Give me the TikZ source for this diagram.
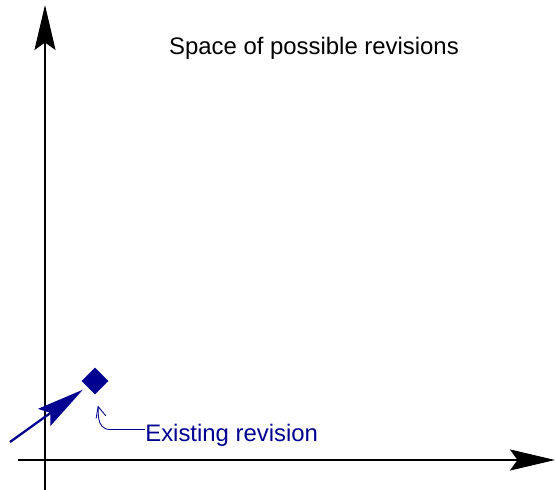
\documentclass[tikz,border=0pt]{standalone}
\usepackage{fontspec}
\setmainfont{Liberation Sans}
\usepackage{tikz}
\usetikzlibrary{arrows.meta, positioning, shapes.geometric}
\definecolor{revblue}{RGB}{0,0,145}

\begin{document}
\begin{tikzpicture}[x=0.02cm, y=-0.02cm,
    axis/.style={line width=1.2pt, -{Stealth[length=0.9cm, width=0.42cm, inset=0.15cm]}},
    revbox/.style={diamond, fill=revblue, inner sep=0pt, minimum size=0.54cm},
    txt/.style={font=\fontsize{13.6}{16}\selectfont, inner sep=0pt}]
    \useasboundingbox (0,0) rectangle (556,490);

    % Achsen
    \coordinate (ybot) at (45,490);
    \coordinate (ytop) at (45,5);
    \coordinate (xleft) at (18,460);
    \coordinate (xright) at (555,460);
    \draw[axis] (ybot) -- (ytop);
    \draw[axis] (xleft) -- (xright);

    % Titel
    \node[txt, anchor=base] (title) at (314,54) {Space of possible revisions};

    % bestehende Revision
    \node[revbox] (rev) at (95,381) {};
    \coordinate (from) at (10,442);
    \draw[revblue, line width=1.3pt, shorten >=0.1cm,
        -{Stealth[length=0.95cm, width=0.42cm, inset=0.15cm]}] (from) -- (rev);

    % Beschriftung
    \node[txt, text=revblue, anchor=base west] (lbl) at (145,442) {Existing revision};
    \draw[revblue, line width=0.5pt, shorten >=0.22cm, -{Straight Barb[length=0.22cm, width=0.2cm]}]
        ([yshift=0.25cm]lbl.base west) -- ++(-35,0) to[out=180, in=-75] (rev.south);
\end{tikzpicture}
\end{document}
